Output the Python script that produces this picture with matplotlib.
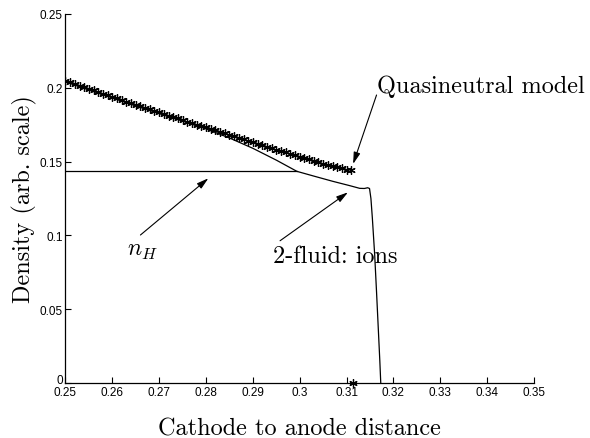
import numpy as np
import matplotlib
matplotlib.use('Agg')
import matplotlib.pyplot as plt
from matplotlib.transforms import ScaledTranslation

plt.rcParams['mathtext.fontset'] = 'cm'

# Quasineutral model (asterisks), sampled every 0.001 in x.
x_qn = np.arange(0.250, 0.3115, 0.001)
n_qn = [0.2048, 0.2037, 0.2026, 0.2015, 0.2004, 0.1993, 0.1982, 0.1971, 0.1960, 0.1949,
        0.1938, 0.1928, 0.1917, 0.1906, 0.1896, 0.1885, 0.1875, 0.1864, 0.1854, 0.1843,
        0.1833, 0.1823, 0.1812, 0.1802, 0.1792, 0.1782, 0.1771, 0.1761, 0.1751, 0.1741,
        0.1731, 0.1721, 0.1711, 0.1701, 0.1691, 0.1681, 0.1671, 0.1661, 0.1651, 0.1641,
        0.1631, 0.1621, 0.1611, 0.1601, 0.1591, 0.1581, 0.1571, 0.1562, 0.1552, 0.1543,
        0.1533, 0.1524, 0.1515, 0.1505, 0.1496, 0.1487, 0.1478, 0.1470, 0.1462, 0.1454,
        0.1446, 0.1440]
# last quasineutral point sits on the axis
x_qn_end = 0.3114
n_qn_end = 0.0

# 2-fluid ion density
x_ion = [0.250, 0.255, 0.260, 0.265, 0.270, 0.275, 0.280, 0.285, 0.290, 0.295,
         0.2994, 0.303, 0.307, 0.3107, 0.3128, 0.3138, 0.3145, 0.3149, 0.3152, 0.3155,
         0.3160, 0.3164, 0.3168, 0.3171, 0.3173]
n_ion = [0.2040, 0.1985, 0.1931, 0.1877, 0.1825, 0.1774, 0.1722, 0.1660, 0.1590, 0.1510,
         0.1434, 0.1402, 0.1367, 0.1337, 0.1319, 0.1318, 0.1323, 0.1318, 0.1250, 0.1120,
         0.0870, 0.0616, 0.0350, 0.0150, 0.0]

# n_H reference level
x_nh = [0.25, 0.2994]
n_nh = [0.1434, 0.1434]

serif = 'cmr10'

fig = plt.figure(figsize=(5.9, 4.39), dpi=100)
ax = fig.add_axes([0.111, 0.125, 0.794, 0.841])

ax.plot(x_nh, n_nh, color='black', lw=0.9)
ax.plot(x_ion, n_ion, color='black', lw=0.9)
ax.plot(x_qn, n_qn, color='black', lw=0, marker=(6, 2, 0), markersize=6, mew=0.9)
ax.plot([x_qn_end], [n_qn_end], color='black', lw=0, marker=(6, 2, 0), markersize=6,
        mew=0.9, clip_on=False)

ax.set_xlim(0.25, 0.35)
ax.set_ylim(0, 0.25)
ax.set_xticks(np.arange(0.25, 0.351, 0.01))
ax.set_xticklabels(['0.25', '0.26', '0.27', '0.28', '0.29', '0.3', '0.31', '0.32',
                    '0.33', '0.34', '0.35'])
ax.set_yticks([0, 0.05, 0.1, 0.15, 0.2, 0.25])
ax.set_yticklabels(['0', '0.05', '0.1', '0.15', '0.2', '0.25'])
ax.tick_params(direction='in', length=4, width=0.8, labelsize=8.5, pad=2)
for lbl in ax.get_xticklabels() + ax.get_yticklabels():
    lbl.set_fontfamily('Liberation Sans')
# lift the "0" a little so it clears the first x label
zero = ax.get_yticklabels()[0]
zero.set_transform(zero.get_transform() + ScaledTranslation(0, 5 / 100, fig.dpi_scale_trans))
ax.spines['top'].set_visible(False)
ax.spines['right'].set_visible(False)
for s in ['left', 'bottom']:
    ax.spines[s].set_linewidth(0.9)

ax.set_xlabel('Cathode to anode distance', fontfamily=serif, fontsize=17.5, labelpad=14)
ax.set_ylabel('Density (arb. scale)', fontfamily=serif, fontsize=17.5, labelpad=2)

# labels and their arrows
arrow = dict(arrowstyle='-|>,head_length=0.7,head_width=0.2', color='black', lw=0.8,
             shrinkA=0, shrinkB=0)
ax.text(0.3165, 0.197, 'Quasineutral model', fontfamily=serif, fontsize=17.5,
        ha='left', va='baseline')
ax.annotate('', xy=(0.3114, 0.1484), xytext=(0.3164, 0.1951), arrowprops=arrow)

ax.text(0.2665, 0.0908, r'$n_H$', fontsize=17, ha='center', va='center')
ax.annotate('', xy=(0.2805, 0.1387), xytext=(0.2660, 0.1003), arrowprops=arrow)

ax.text(0.2943, 0.086, '2-fluid: ions', fontfamily=serif, fontsize=17.5,
        ha='left', va='center')
ax.annotate('', xy=(0.3103, 0.1292), xytext=(0.2958, 0.0964), arrowprops=arrow)

fig.savefig('out.png', dpi=100)
